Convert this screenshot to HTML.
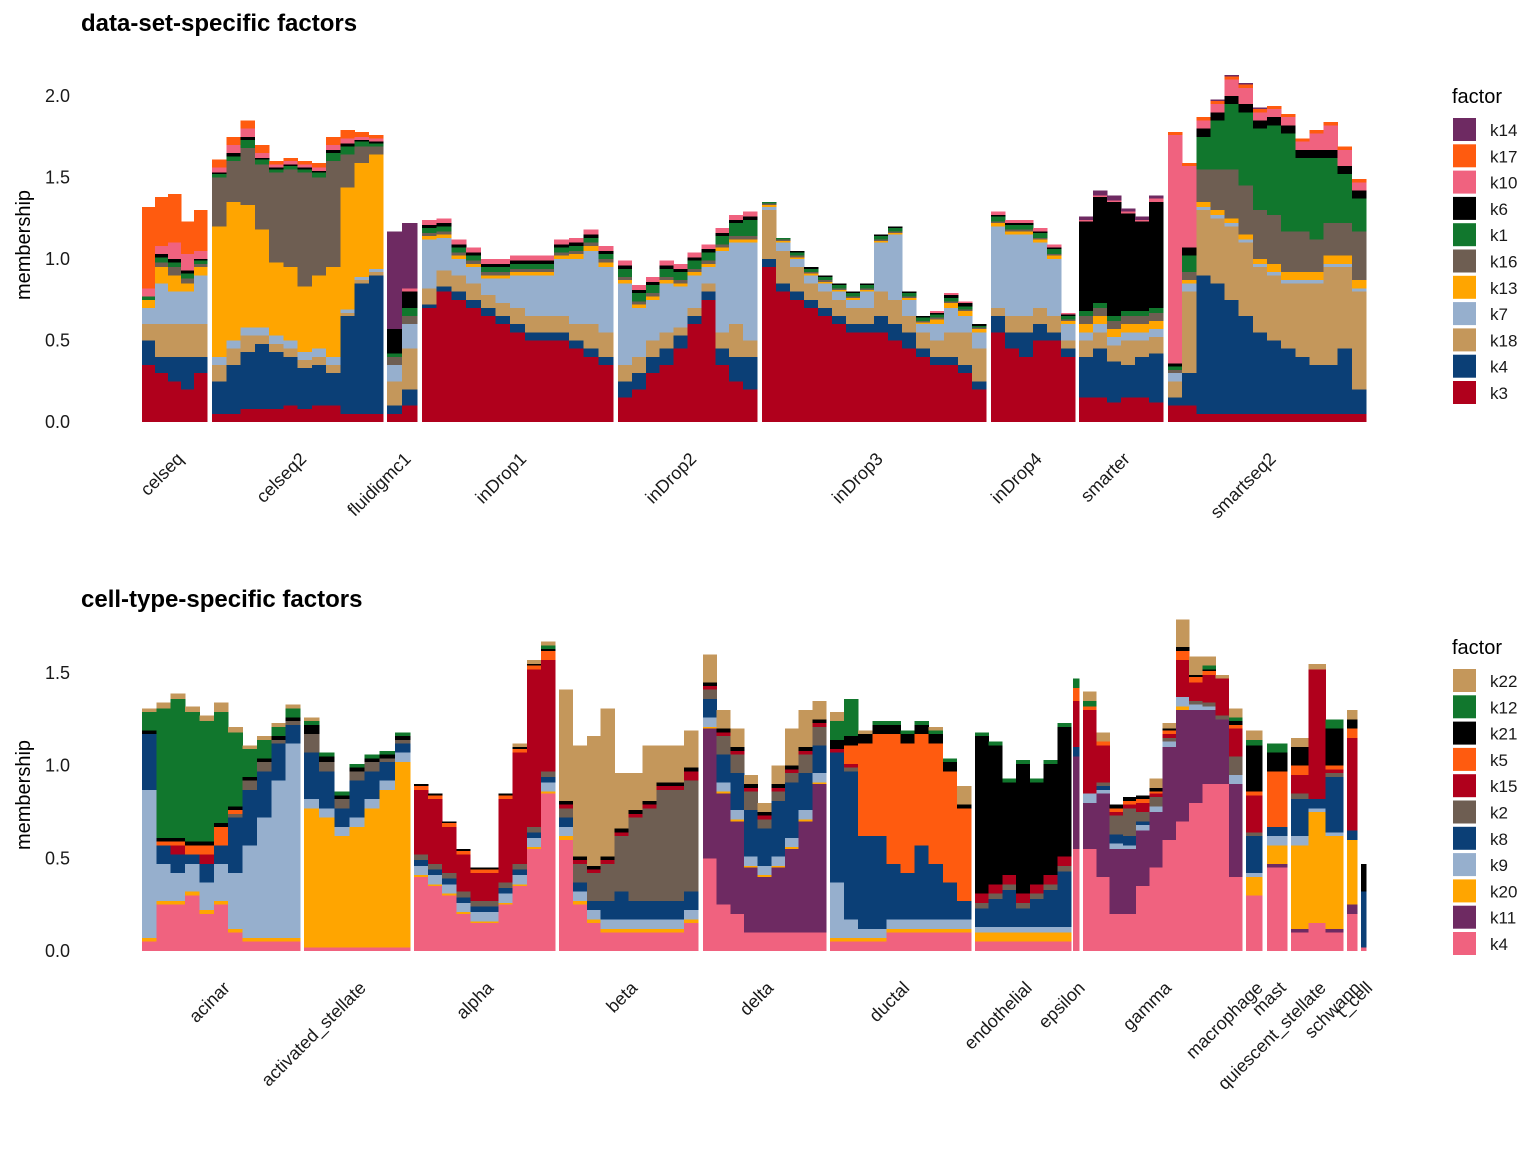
<!DOCTYPE html>
<html><head><meta charset="utf-8"><style>
body{margin:0;background:#fff}
svg{display:block;font-family:"Liberation Sans",Arial,sans-serif}
</style></head><body>
<svg id="chart" width="1536" height="1152" viewBox="0 0 1536 1152" xmlns="http://www.w3.org/2000/svg">
<g id="top"></g>
<g id="bot"></g>
</svg>
<script>
// ---- top panel data: columns = [k3,k4,k18,k7,k13,k16,k1,k6,k10,k17,k14]
const topFactors = ["k3","k4","k18","k7","k13","k16","k1","k6","k10","k17","k14"];
const topColors = ["#b0001c","#0b3f76","#c4975b","#96afcd","#ffa500","#6e5e52","#11772d","#000000","#f0627f","#ff5b0f","#6e2a62"];
const topTicks = [0,0.5,1.0,1.5,2.0];
const topGroups = ["celseq","celseq2","fluidigmc1","inDrop1","inDrop2","inDrop3","inDrop4","smarter","smartseq2"];
const celseq = [
[0.35,0.15,0.1,0.1,0.05,0,0.02,0,0.05,0.5,0],
[0.3,0.1,0.2,0.25,0.1,0.03,0.03,0.02,0.05,0.3,0],
[0.25,0.15,0.2,0.2,0.1,0.05,0.03,0.02,0.1,0.3,0],
[0.2,0.2,0.2,0.2,0.05,0.03,0.03,0.02,0.1,0.2,0],
[0.3,0.1,0.2,0.3,0.05,0.02,0.02,0.01,0.05,0.25,0]];
const celseq2 = [
[0.05,0.2,0.1,0.05,0.8,0.3,0.02,0.01,0.03,0.05,0],
[0.05,0.3,0.1,0.05,0.85,0.25,0.03,0.02,0.05,0.05,0],
[0.08,0.35,0.1,0.05,0.75,0.35,0.05,0.02,0.05,0.05,0],
[0.08,0.4,0.05,0.05,0.6,0.4,0.03,0.01,0.03,0.05,0],
[0.08,0.35,0.05,0.05,0.45,0.55,0.02,0.01,0.02,0.02,0],
[0.1,0.3,0.05,0.05,0.45,0.6,0.02,0.01,0.02,0.02,0],
[0.08,0.25,0.05,0.05,0.4,0.7,0.02,0.01,0.02,0.02,0],
[0.1,0.25,0.05,0.05,0.45,0.6,0.03,0.01,0.02,0.03,0],
[0.1,0.2,0.05,0.05,0.55,0.65,0.05,0.02,0.03,0.05,0],
[0.05,0.6,0.02,0.02,0.75,0.2,0.05,0.02,0.03,0.05,0],
[0.05,0.8,0.02,0.02,0.7,0.1,0.03,0.01,0.02,0.03,0],
[0.05,0.85,0.02,0.02,0.7,0.05,0.02,0.01,0.02,0.02,0]];
const fluidigmc1 = [
[0.05,0.05,0.15,0.1,0,0.05,0.02,0.15,0,0,0.6],
[0.1,0.1,0.25,0.15,0,0.05,0.05,0.1,0.02,0,0.4]];
const inDrop1 = [
[0.7,0.02,0.1,0.3,0.02,0.02,0.03,0.02,0.03,0,0],
[0.8,0.03,0.1,0.2,0.02,0.02,0.03,0.02,0.03,0,0],
[0.75,0.05,0.1,0.1,0.02,0.02,0.03,0.02,0.03,0,0],
[0.7,0.05,0.1,0.1,0.02,0.02,0.03,0.02,0.03,0,0],
[0.65,0.05,0.08,0.1,0.02,0.02,0.03,0.02,0.03,0,0],
[0.6,0.05,0.08,0.15,0.02,0.02,0.03,0.02,0.03,0,0],
[0.55,0.05,0.1,0.2,0.02,0.02,0.03,0.02,0.03,0,0],
[0.5,0.05,0.1,0.25,0.02,0.02,0.03,0.02,0.03,0,0],
[0.5,0.05,0.1,0.25,0.02,0.02,0.03,0.02,0.03,0,0],
[0.5,0.05,0.1,0.35,0.02,0.02,0.03,0.02,0.03,0,0],
[0.45,0.05,0.1,0.4,0.03,0.02,0.03,0.02,0.03,0,0],
[0.4,0.05,0.15,0.45,0.03,0.02,0.03,0.02,0.03,0,0],
[0.35,0.05,0.15,0.4,0.03,0.02,0.03,0.02,0.03,0,0]];
const inDrop2 = [
[0.15,0.1,0.1,0.5,0.02,0.02,0.05,0.02,0.03,0,0],
[0.2,0.1,0.1,0.3,0.02,0.02,0.05,0.02,0.03,0,0],
[0.3,0.1,0.1,0.25,0.02,0.02,0.05,0.02,0.03,0,0],
[0.35,0.1,0.1,0.3,0.02,0.02,0.05,0.02,0.03,0,0],
[0.45,0.08,0.05,0.25,0.02,0.02,0.05,0.02,0.03,0,0],
[0.6,0.05,0.05,0.2,0.02,0.02,0.05,0.02,0.03,0,0],
[0.75,0.05,0.05,0.1,0.02,0.02,0.05,0.02,0.03,0,0],
[0.35,0.1,0.1,0.5,0.02,0.02,0.05,0.02,0.03,0,0],
[0.25,0.15,0.2,0.5,0.02,0.02,0.08,0.02,0.03,0,0],
[0.2,0.2,0.1,0.6,0.02,0.02,0.1,0.02,0.03,0,0]];
const inDrop3 = [
[0.95,0.05,0.3,0.02,0.01,0.01,0.01,0,0,0,0],
[0.8,0.05,0.2,0.05,0.01,0.01,0.01,0,0,0,0],
[0.75,0.05,0.15,0.05,0.01,0.01,0.02,0.01,0,0,0],
[0.7,0.05,0.1,0.05,0.01,0.01,0.02,0.01,0,0,0],
[0.65,0.05,0.1,0.05,0.01,0.01,0.02,0.01,0,0,0],
[0.6,0.05,0.1,0.05,0.01,0.01,0.02,0.01,0,0,0],
[0.55,0.05,0.1,0.05,0.01,0.01,0.02,0.01,0,0,0],
[0.55,0.05,0.1,0.1,0.01,0.01,0.02,0.01,0,0,0],
[0.55,0.1,0.15,0.3,0.01,0.01,0.02,0.01,0,0,0],
[0.5,0.1,0.15,0.4,0.01,0.01,0.02,0.01,0,0,0],
[0.45,0.1,0.1,0.1,0.01,0.01,0.02,0.01,0,0,0],
[0.4,0.05,0.1,0.05,0.01,0.01,0.02,0.01,0,0,0],
[0.35,0.05,0.1,0.1,0.03,0.01,0.02,0.01,0.01,0,0],
[0.35,0.05,0.15,0.15,0.03,0.01,0.02,0.02,0.01,0,0],
[0.3,0.05,0.2,0.1,0.03,0.01,0.02,0.02,0.01,0,0],
[0.2,0.05,0.2,0.1,0.02,0.01,0.01,0.01,0,0,0]];
const inDrop4 = [
[0.55,0.1,0.05,0.5,0.02,0.01,0.03,0.01,0.02,0,0],
[0.45,0.1,0.1,0.5,0.02,0.01,0.03,0.01,0.02,0,0],
[0.4,0.15,0.1,0.5,0.02,0.01,0.03,0.01,0.02,0,0],
[0.5,0.1,0.1,0.4,0.02,0.01,0.03,0.01,0.02,0,0],
[0.5,0.05,0.1,0.35,0.02,0.01,0.03,0.01,0.02,0,0],
[0.4,0.05,0.05,0.1,0.02,0.01,0.02,0.01,0.01,0,0]];
const smarter = [
[0.15,0.25,0.1,0.05,0.05,0.05,0.03,0.55,0.01,0,0.02],
[0.15,0.3,0.1,0.05,0.05,0.05,0.03,0.65,0.01,0,0.03],
[0.12,0.25,0.1,0.05,0.05,0.05,0.03,0.7,0.01,0,0.03],
[0.15,0.2,0.15,0.05,0.05,0.05,0.03,0.6,0.01,0,0.02],
[0.15,0.25,0.1,0.05,0.05,0.05,0.03,0.55,0.01,0,0.02],
[0.12,0.3,0.1,0.05,0.05,0.05,0.03,0.65,0.02,0,0.02]];
const smartseq2 = [
[0.1,0.05,0.1,0.05,0,0.02,0.02,0.02,1.4,0.02,0],
[0.1,0.2,0.5,0.05,0.02,0.05,0.1,0.05,0.5,0.02,0],
[0.05,0.85,0.4,0.02,0.03,0.2,0.2,0.05,0.05,0.02,0],
[0.05,0.8,0.4,0.02,0.03,0.25,0.3,0.05,0.05,0.02,0.01],
[0.05,0.7,0.45,0.02,0.03,0.3,0.4,0.05,0.1,0.02,0.01],
[0.05,0.6,0.45,0.02,0.03,0.3,0.45,0.05,0.1,0.02,0.01],
[0.05,0.5,0.4,0.02,0.03,0.3,0.5,0.05,0.05,0.02,0.01],
[0.05,0.45,0.4,0.02,0.05,0.3,0.55,0.05,0.05,0.02,0],
[0.05,0.4,0.4,0.02,0.05,0.25,0.6,0.05,0.05,0.02,0],
[0.05,0.35,0.45,0.02,0.05,0.25,0.45,0.05,0.05,0.02,0],
[0.05,0.3,0.5,0.02,0.05,0.2,0.5,0.05,0.1,0.02,0],
[0.05,0.3,0.6,0.02,0.05,0.2,0.4,0.05,0.15,0.02,0],
[0.05,0.4,0.5,0.02,0.05,0.2,0.3,0.05,0.1,0.02,0],
[0.05,0.15,0.6,0.02,0.05,0.3,0.2,0.05,0.05,0.02,0]];
const topData = [celseq,celseq2,fluidigmc1,inDrop1,inDrop2,inDrop3,inDrop4,smarter,smartseq2];

// ---- bottom panel data: columns = [k4,k11,k20,k9,k8,k2,k15,k5,k21,k12,k22]
const botFactors = ["k4","k11","k20","k9","k8","k2","k15","k5","k21","k12","k22"];
const botColors = ["#f0627f","#6e2a62","#ffa500","#96afcd","#0b3f76","#6e5e52","#b0001c","#ff5b0f","#000000","#11772d","#c4975b"];
const botTicks = [0,0.5,1.0,1.5];
const botGroups = ["acinar","activated_stellate","alpha","beta","delta","ductal","endothelial","epsilon","gamma","macrophage","mast","quiescent_stellate","schwann","t_cell"];
const acinar = [
[0.05,0,0.02,0.8,0.3,0,0,0,0.02,0.1,0.02],
[0.25,0,0.02,0.2,0.1,0,0,0.02,0.02,0.7,0.03],
[0.25,0,0.02,0.15,0.1,0,0.05,0.02,0.02,0.75,0.03],
[0.3,0,0.02,0.15,0.05,0,0,0.05,0.02,0.7,0.03],
[0.2,0,0.02,0.15,0.1,0,0.05,0.05,0.02,0.65,0.03],
[0.25,0,0.02,0.2,0.1,0,0,0.1,0.02,0.6,0.05],
[0.1,0,0.02,0.3,0.3,0.02,0,0.02,0.02,0.4,0.03],
[0.05,0,0.02,0.5,0.3,0.05,0,0,0.02,0.15,0.02],
[0.05,0,0.02,0.65,0.25,0.05,0,0,0.02,0.1,0.02],
[0.05,0,0.02,0.85,0.2,0.02,0,0,0.02,0.05,0.02],
[0.05,0,0.02,1.05,0.1,0.02,0,0,0.02,0.05,0.02]];
const activated_stellate = [
[0.02,0,0.75,0.05,0.25,0.1,0,0,0.05,0.02,0.02],
[0.02,0,0.7,0.05,0.2,0.05,0,0,0.03,0.02,0],
[0.02,0,0.6,0.05,0.1,0.05,0,0,0.02,0.02,0],
[0.02,0,0.65,0.05,0.2,0.05,0,0,0.02,0.02,0],
[0.02,0,0.75,0.05,0.15,0.05,0,0,0.02,0.02,0],
[0.02,0,0.85,0.05,0.1,0.02,0,0,0.02,0.02,0],
[0.02,0,1.0,0.05,0.05,0.02,0,0,0.02,0.02,0]];
const alpha = [
[0.4,0,0.01,0.05,0.03,0.03,0.35,0.02,0.01,0,0],
[0.35,0,0.01,0.05,0.03,0.03,0.35,0.02,0.01,0,0],
[0.3,0,0.01,0.05,0.03,0.03,0.25,0.02,0.01,0,0],
[0.2,0,0.01,0.05,0.03,0.03,0.2,0.02,0.01,0,0],
[0.15,0,0.01,0.05,0.03,0.03,0.15,0.02,0.01,0,0],
[0.15,0,0.01,0.05,0.03,0.03,0.15,0.02,0.01,0,0],
[0.25,0,0.01,0.05,0.03,0.03,0.45,0.02,0.01,0,0],
[0.35,0,0.01,0.05,0.03,0.03,0.6,0.02,0.01,0,0.02],
[0.55,0,0.01,0.05,0.03,0.03,0.85,0.02,0.01,0,0.02],
[0.85,0,0.01,0.05,0.03,0.03,0.6,0.05,0.01,0.02,0.02]];
const beta = [
[0.6,0,0.02,0.05,0.05,0.05,0.02,0,0.02,0,0.6],
[0.25,0,0.02,0.05,0.05,0.1,0.02,0,0.02,0,0.6],
[0.15,0,0.02,0.05,0.05,0.15,0.02,0,0.02,0,0.7],
[0.1,0,0.02,0.05,0.1,0.2,0.02,0,0.02,0,0.8],
[0.1,0,0.02,0.05,0.15,0.3,0.02,0,0.02,0,0.3],
[0.1,0,0.02,0.05,0.1,0.45,0.02,0,0.02,0,0.2],
[0.1,0,0.02,0.05,0.1,0.5,0.02,0,0.02,0,0.3],
[0.1,0,0.02,0.05,0.1,0.6,0.02,0,0.02,0,0.2],
[0.1,0,0.02,0.05,0.1,0.6,0.02,0,0.02,0,0.2],
[0.15,0,0.02,0.05,0.1,0.6,0.05,0,0.02,0,0.2]];
const delta = [
[0.5,0.7,0.01,0.05,0.1,0.05,0.02,0,0.02,0,0.15],
[0.25,0.6,0.01,0.05,0.15,0.1,0.02,0,0.02,0,0.1],
[0.2,0.5,0.01,0.05,0.2,0.1,0.02,0,0.02,0,0.1],
[0.1,0.35,0.01,0.05,0.25,0.1,0.02,0,0.02,0,0.05],
[0.1,0.3,0.01,0.05,0.2,0.05,0.02,0,0.02,0,0.05],
[0.1,0.35,0.01,0.05,0.3,0.05,0.02,0,0.02,0,0.1],
[0.1,0.45,0.01,0.05,0.3,0.05,0.02,0,0.02,0,0.2],
[0.1,0.6,0.01,0.05,0.2,0.1,0.02,0,0.02,0,0.2],
[0.1,0.8,0.01,0.05,0.15,0.1,0.02,0,0.02,0,0.1]];
const ductal = [
[0.05,0,0.02,0.3,0.7,0,0.02,0,0.05,0.1,0.05],
[0.05,0,0.02,0.1,0.8,0.02,0.02,0.1,0.05,0.2,0],
[0.05,0,0.02,0.05,0.5,0,0,0.5,0.05,0,0.02],
[0.05,0,0.02,0.05,0.5,0,0,0.55,0.05,0.02,0],
[0.1,0,0.02,0.05,0.3,0,0,0.7,0.05,0.02,0],
[0.1,0,0.02,0.05,0.25,0,0,0.7,0.05,0.02,0],
[0.1,0,0.02,0.05,0.4,0,0,0.6,0.05,0.02,0],
[0.1,0,0.02,0.05,0.3,0,0,0.65,0.05,0.02,0.02],
[0.1,0,0.02,0.05,0.2,0,0,0.6,0.05,0.02,0],
[0.1,0,0.02,0.05,0.1,0,0,0.5,0.02,0,0.1]];
const endothelial = [
[0.05,0,0.05,0.03,0.1,0.03,0.05,0,0.85,0.02,0],
[0.05,0,0.05,0.03,0.15,0.03,0.05,0,0.75,0.02,0],
[0.05,0,0.05,0.03,0.2,0.03,0.05,0,0.5,0.02,0],
[0.05,0,0.05,0.03,0.1,0.03,0.05,0,0.7,0.02,0],
[0.05,0,0.05,0.03,0.15,0.03,0.05,0,0.55,0.02,0],
[0.05,0,0.05,0.03,0.2,0.03,0.05,0,0.6,0.02,0],
[0.05,0,0.05,0.03,0.3,0.03,0.05,0,0.7,0.02,0]];
const epsilon = [[0.55,0.5,0,0,0.05,0,0.25,0.07,0,0.05,0]];
const gamma = [
[0.55,0.25,0,0.05,0,0,0.45,0.02,0,0.03,0.05],
[0.4,0.45,0,0.02,0.02,0.02,0.2,0.02,0,0,0.05],
[0.2,0.35,0,0.03,0.05,0.1,0.02,0.02,0.02,0,0],
[0.2,0.35,0,0.02,0.05,0.15,0.02,0.02,0.02,0,0],
[0.35,0.3,0,0.03,0.02,0.05,0.05,0.02,0.02,0,0],
[0.45,0.3,0,0.03,0,0.05,0.02,0.01,0.02,0,0.05],
[0.6,0.5,0,0.03,0,0.02,0.02,0.02,0.01,0,0.03],
[0.7,0.6,0.02,0.05,0,0,0.2,0.05,0.02,0,0.15],
[0.8,0.5,0,0.03,0,0.02,0.1,0.03,0.01,0,0.1],
[0.9,0.4,0,0.02,0,0.02,0.15,0.02,0.01,0.02,0.05],
[0.9,0.35,0,0,0,0.02,0.2,0,0,0,0.02],
[0.4,0.5,0,0.05,0,0.1,0.15,0.02,0.02,0.02,0.05]];
const macrophage = [[0.3,0,0.1,0.02,0.2,0.02,0.2,0.02,0.25,0.03,0.05]];
const mast = [[0.45,0.02,0.1,0.05,0.05,0,0,0.3,0.1,0.05,0]];
const quiescent_stellate = [
[0.1,0.02,0.45,0.05,0.2,0.03,0.1,0.05,0.1,0,0.05],
[0.15,0,0.6,0.02,0.05,0,0.7,0,0,0,0.03],
[0.1,0.02,0.5,0.02,0.3,0.02,0.02,0.02,0.2,0.05,0]];
const schwann = [[0.2,0.05,0.35,0,0.05,0,0.5,0.05,0.05,0,0.05]];
const t_cell = [[0.02,0,0,0,0.3,0,0,0,0.15,0,0]];
const botData = [acinar,activated_stellate,alpha,beta,delta,ductal,endothelial,epsilon,gamma,macrophage,mast,quiescent_stellate,schwann,t_cell];

// ---- layout (group pixel extents, not data)
const topSpans = [[142,207],[212,383],[387,417],[422,613],[618,757],[762,986],[991,1075],[1079,1163],[1168,1366]];
const botSpans = [[142,300],[304,410],[414,555],[559,698],[703,826],[830,971],[975,1071],[1073,1079],[1083,1242],[1246,1262],[1267,1287],[1291,1343],[1347,1357],[1361,1366]];
const NS="http://www.w3.org/2000/svg";
function mk(tag,attrs,parent){const e=document.createElementNS(NS,tag);for(const k in attrs)e.setAttribute(k,attrs[k]);parent.appendChild(e);return e;}

function drawPanel(g,cfg){
  const y=v=>cfg.y0-v*cfg.ppu;
  const t=mk('text',{x:81,y:cfg.titleY,'font-size':24,'font-weight':'bold',fill:'#000'},g);
  t.textContent=cfg.title;
  
  
  const yl=mk('text',{transform:`translate(30,${cfg.ylabY}) rotate(-90)`,'font-size':20,'text-anchor':'middle',fill:'#000'},g);
  yl.textContent='membership';
  
  
  cfg.ticks.forEach(v=>{
    const tt=mk('text',{x:70,y:y(v)+6,'font-size':18,'text-anchor':'end',fill:'#1a1a1a'},g);
    tt.textContent=v.toFixed(1);
    
    
  });
  cfg.data.forEach((bins,gi)=>{
    const [x0,x1]=cfg.spans[gi];
    const bw=(x1-x0)/bins.length;
    const gg=mk('g',{'shape-rendering':'crispEdges'},g);
    
    
    bins.forEach((row,bi)=>{
      let acc=0;
      row.forEach((v,fi)=>{
        if(v<=0)return;
        const r=mk('rect',{x:x0+bi*bw,y:y(acc+v),width:bw+0.3,height:v*cfg.ppu,fill:cfg.colors[fi]},gg);
        
        
        acc+=v;
      });
    });
    const cx=(x0+x1)/2;
    const lt=mk('text',{transform:`translate(${cx+10},${cfg.y0+38}) rotate(-45)`,'font-size':18,'text-anchor':'end',fill:'#1a1a1a'},g);
    lt.textContent=cfg.groups[gi];
    
    
  });
  const lt=mk('text',{x:1452,y:cfg.legY,'font-size':20,fill:'#000'},g);
  lt.textContent='factor';
  
  
  const n=cfg.factors.length;
  for(let i=0;i<n;i++){
    const fi=n-1-i;
    const yy=cfg.legY+15+i*26.3;
    const k=mk('rect',{x:1453,y:yy,width:23,height:23,fill:cfg.colors[fi]},g);
    
    
    const lb=mk('text',{x:1490,y:yy+18,'font-size':17,fill:'#1a1a1a'},g);
    lb.textContent=cfg.factors[fi];
    
    
  }
}
drawPanel(document.getElementById('top'),{title:'data-set-specific factors',titleY:31,y0:422,ppu:163,ticks:topTicks,ylabY:245,data:topData,spans:topSpans,groups:topGroups,factors:topFactors,colors:topColors,legY:103});
drawPanel(document.getElementById('bot'),{title:'cell-type-specific factors',titleY:607,y0:951,ppu:185.3,ticks:botTicks,ylabY:795,data:botData,spans:botSpans,groups:botGroups,factors:botFactors,colors:botColors,legY:654});
</script>
</body></html>
